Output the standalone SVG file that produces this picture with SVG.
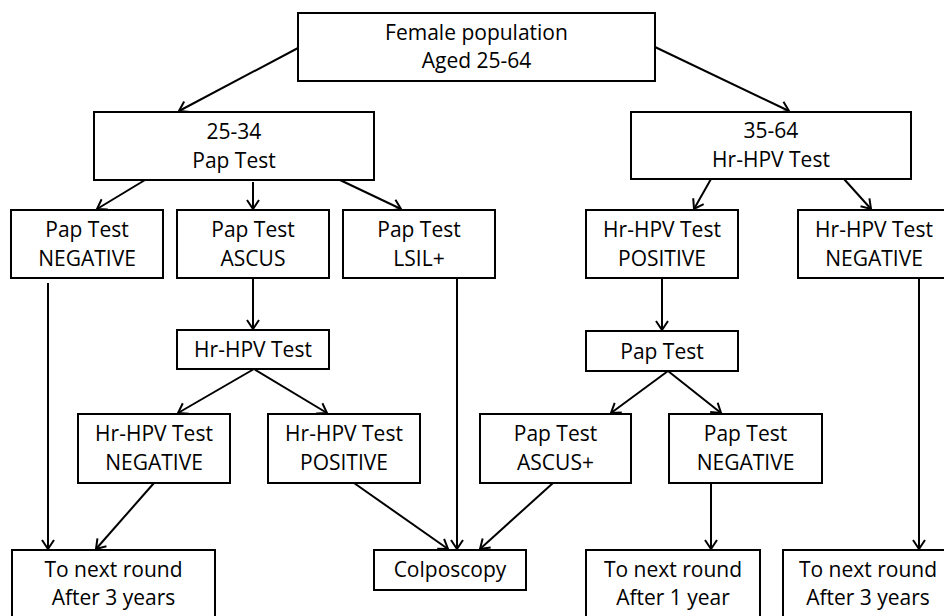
<svg xmlns="http://www.w3.org/2000/svg" width="944" height="616" viewBox="0 0 944 616">
<defs>
<style>
rect{fill:#fff;stroke:#000;stroke-width:2}
text{font-family:"Open Sans","Noto Sans","Liberation Sans",sans-serif;font-size:21px;fill:#000;text-anchor:middle}
.c line{stroke:#000;stroke-width:2;marker-end:url(#ah)}
</style>
<marker id="ah" markerUnits="userSpaceOnUse" viewBox="-11 -8 13 16" refX="0" refY="0" markerWidth="13" markerHeight="16" orient="auto">
<path d="M-9,-6 L0,0 L-9,6" fill="none" stroke="#000" stroke-width="2"/>
</marker>
</defs>
<rect x="0" y="0" width="944" height="616" style="stroke:none"/>
<g class="c" id="connectors">
<line x1="298" y1="48" x2="179" y2="111"/>
<line x1="655" y1="47" x2="789" y2="111"/>
<line x1="145" y1="180" x2="97" y2="209"/>
<line x1="253" y1="182" x2="253" y2="209"/>
<line x1="340" y1="180" x2="401" y2="209"/>
<line x1="711" y1="179" x2="694" y2="209"/>
<line x1="844" y1="179" x2="871" y2="209"/>
<line x1="48" y1="283" x2="48" y2="549"/>
<line x1="253" y1="278" x2="253" y2="329"/>
<line x1="457" y1="279" x2="457" y2="549"/>
<line x1="254" y1="369" x2="178" y2="413"/>
<line x1="254" y1="369" x2="327" y2="413"/>
<line x1="154" y1="483" x2="96" y2="549"/>
<line x1="354" y1="483" x2="448" y2="549"/>
<line x1="662" y1="278" x2="662" y2="330"/>
<line x1="668" y1="371" x2="611" y2="413"/>
<line x1="668" y1="371" x2="721" y2="413"/>
<line x1="553" y1="483" x2="480" y2="549"/>
<line x1="711" y1="483" x2="711" y2="549"/>
<line x1="919" y1="279" x2="919" y2="549"/>
</g>
<g id="n-female"><rect x="298" y="13" width="357" height="68"/><text x="476.5" y="40">Female population</text><text x="476.5" y="68">Aged 25-64</text></g>
<g id="n-2534"><rect x="94" y="112" width="280" height="68"/><text x="234" y="138.5">25-34</text><text x="234" y="167.5">Pap Test</text></g>
<g id="n-3564"><rect x="631" y="112" width="280" height="67"/><text x="771" y="138">35-64</text><text x="771" y="167">Hr-HPV Test</text></g>
<g id="n-papneg"><rect x="11" y="210" width="152" height="68"/><text x="87" y="236.5">Pap Test</text><text x="87" y="265.5">NEGATIVE</text></g>
<g id="n-papascus"><rect x="177" y="210" width="152" height="68"/><text x="253" y="236.5">Pap Test</text><text x="253" y="265.5">ASCUS</text></g>
<g id="n-paplsil"><rect x="343" y="210" width="152" height="68"/><text x="419" y="236.5">Pap Test</text><text x="419" y="265.5">LSIL+</text></g>
<g id="n-hpvpos1"><rect x="586" y="210" width="152" height="68"/><text x="662" y="236.5">Hr-HPV Test</text><text x="662" y="265.5">POSITIVE</text></g>
<g id="n-hpvneg1"><rect x="798" y="210" width="152" height="68"/><text x="874" y="236.5">Hr-HPV Test</text><text x="874" y="265.5">NEGATIVE</text></g>
<g id="n-hpvtest"><rect x="177" y="330" width="152" height="39"/><text x="253" y="357">Hr-HPV Test</text></g>
<g id="n-paptest"><rect x="586" y="331" width="152" height="40"/><text x="662" y="358.5">Pap Test</text></g>
<g id="n-hpvneg2"><rect x="78" y="414" width="152" height="69"/><text x="154" y="441">Hr-HPV Test</text><text x="154" y="470">NEGATIVE</text></g>
<g id="n-hpvpos2"><rect x="268" y="414" width="152" height="69"/><text x="344" y="441">Hr-HPV Test</text><text x="344" y="470">POSITIVE</text></g>
<g id="n-papascusplus"><rect x="480" y="414" width="151" height="69"/><text x="555.5" y="441">Pap Test</text><text x="555.5" y="470">ASCUS+</text></g>
<g id="n-papneg2"><rect x="669" y="414" width="153" height="69"/><text x="745.5" y="441">Pap Test</text><text x="745.5" y="470">NEGATIVE</text></g>
<g id="n-next3a"><rect x="12" y="550" width="203" height="69"/><text x="113.5" y="577">To next round</text><text x="113.5" y="605">After 3 years</text></g>
<g id="n-colpo"><rect x="374" y="550" width="152" height="40"/><text x="450" y="577">Colposcopy</text></g>
<g id="n-next1"><rect x="586" y="550" width="174" height="69"/><text x="673" y="577">To next round</text><text x="673" y="605">After 1 year</text></g>
<g id="n-next3b"><rect x="783" y="550" width="170" height="69"/><text x="868" y="577">To next round</text><text x="868" y="605">After 3 years</text></g>
</svg>
